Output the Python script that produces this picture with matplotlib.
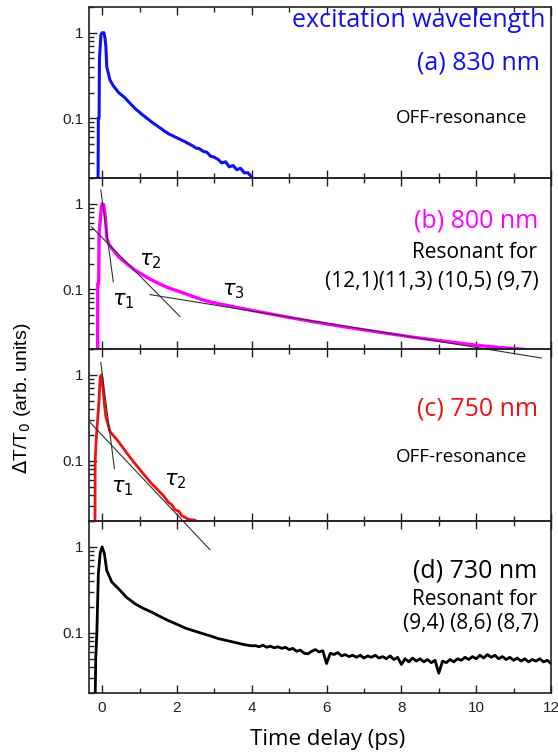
import matplotlib
matplotlib.use("Agg")
import matplotlib.pyplot as plt
from matplotlib.ticker import LogLocator, FixedLocator, NullFormatter, FixedFormatter

# ---------------- data ----------------
# (a) 830 nm
a_x = [-0.11, -0.10, -0.08, -0.07, -0.03, 0.0, 0.05, 0.08, 0.10, 0.125, 0.21, 0.30, 0.44, 0.60,
       0.88, 1.10, 1.33, 1.55, 1.77, 2.00, 2.22, 2.44, 2.5, 2.6, 2.7, 2.8, 2.9, 3.0, 3.1, 3.2,
       3.3, 3.4, 3.5, 3.6, 3.7, 3.8, 3.9, 4.0]
a_y = [0.012, 0.10, 0.10, 0.50, 0.95, 1.0, 1.0, 0.85, 0.70, 0.40, 0.28, 0.24, 0.20, 0.175,
       0.13, 0.108, 0.090, 0.077, 0.066, 0.059, 0.053, 0.047, 0.045, 0.044, 0.041, 0.040, 0.036,
       0.035, 0.033, 0.030, 0.031, 0.027, 0.028, 0.025, 0.026, 0.023, 0.023, 0.0205]

# (b) 800 nm
b_x = [-0.12, -0.115, -0.09, -0.08, -0.02, 0.0, 0.04, 0.07, 0.10, 0.125, 0.18, 0.26, 0.44,
       0.65, 0.88, 1.10, 1.33, 1.55, 1.77, 2.00, 2.22, 2.44, 2.66, 2.90, 3.10, 3.55, 4.00, 4.75,
       5.60, 6.53, 7.40, 8.31, 9.20, 10.09, 10.70, 11.30]
b_y = [0.012, 0.117, 0.117, 0.45, 0.90, 1.0, 0.98, 0.80, 0.59, 0.40, 0.34, 0.30, 0.24,
       0.20, 0.167, 0.146, 0.128, 0.115, 0.104, 0.096, 0.089, 0.082, 0.0757, 0.071, 0.068, 0.062,
       0.0566, 0.049, 0.042, 0.036, 0.0315, 0.0275, 0.0245, 0.0219, 0.0207, 0.0198]
# fit lines (b): endpoints (x, y)
b_tau1 = ([-0.035, 0.30], [1.46, 0.122])
b_tau2 = ([-0.29, 2.08], [0.54, 0.048])
b_tau3 = ([1.28, 11.74], [0.0866, 0.0157])

# (c) 750 nm
c_x = [-0.19, -0.185, -0.15, -0.08, -0.05, -0.02, 0.0, 0.035, 0.07, 0.10, 0.21, 0.44, 0.65,
       0.88, 1.10, 1.33, 1.45, 1.55, 1.65, 1.77, 1.86, 1.95, 2.05, 2.13, 2.22, 2.30, 2.48]
c_y = [0.012, 0.10, 0.20, 0.52, 0.95, 1.0, 0.92, 0.62, 0.42, 0.33, 0.22, 0.167, 0.125,
       0.093, 0.071, 0.054, 0.048, 0.043, 0.039, 0.033, 0.031, 0.027, 0.026, 0.023, 0.022, 0.021,
       0.0204]
c_tau1 = ([-0.035, 0.33], [1.40, 0.081])
c_tau2 = ([-0.32, 2.88], [0.28, 0.0093])

# (d) 730 nm
d_x = [-0.19, -0.17, -0.14, -0.10, -0.05, 0.0, 0.06, 0.125, 0.26, 0.44, 0.65, 0.88, 1.10,
       1.33, 1.55, 1.77, 2.00, 2.22, 2.44, 2.66, 2.90, 3.10, 3.30, 3.55, 3.80, 4.00,
       4.1, 4.2, 4.3, 4.4, 4.5, 4.6, 4.7, 4.8, 4.9, 5.0, 5.1, 5.2, 5.3, 5.4, 5.5, 5.6, 5.7, 5.8,
       5.9, 6.0, 6.1, 6.2, 6.3, 6.4, 6.5, 6.6, 6.7, 6.8, 6.9, 7.0, 7.1, 7.2, 7.3, 7.4, 7.5, 7.6,
       7.7, 7.8, 7.9, 8.0, 8.1, 8.2, 8.3, 8.4, 8.5, 8.6, 8.7, 8.8, 8.9, 9.0, 9.1, 9.2, 9.3, 9.4,
       9.5, 9.6, 9.7, 9.8, 9.9, 10.0, 10.1, 10.2, 10.3, 10.4, 10.5, 10.6, 10.7, 10.8, 10.9, 11.0,
       11.1, 11.2, 11.3, 11.4, 11.5, 11.6, 11.7, 11.8, 11.9, 12.0]
d_y = [0.012, 0.05, 0.10, 0.49, 0.85, 1.0, 0.84, 0.53, 0.39, 0.326, 0.26, 0.218, 0.193,
       0.174, 0.155, 0.139, 0.126, 0.114, 0.106, 0.099, 0.092, 0.086, 0.082, 0.0775, 0.073, 0.0707,
       0.071, 0.069, 0.072, 0.068, 0.070, 0.067, 0.069, 0.066, 0.068, 0.064, 0.066, 0.061, 0.063,
       0.058, 0.057, 0.061, 0.064, 0.060, 0.062, 0.044, 0.058, 0.056, 0.059, 0.054, 0.056, 0.053,
       0.055, 0.052, 0.055, 0.051, 0.054, 0.052, 0.055, 0.051, 0.053, 0.050, 0.054, 0.049, 0.052,
       0.043, 0.050, 0.046, 0.051, 0.047, 0.050, 0.046, 0.049, 0.045, 0.048, 0.034, 0.047, 0.045,
       0.049, 0.046, 0.050, 0.048, 0.052, 0.049, 0.053, 0.050, 0.055, 0.051, 0.056, 0.052, 0.055,
       0.050, 0.053, 0.049, 0.052, 0.048, 0.051, 0.047, 0.050, 0.046, 0.049, 0.047, 0.050, 0.046,
       0.048, 0.044]

x_major = [0, 2, 4, 6, 8, 10, 12]
x_minor = [1, 3, 5, 7, 9, 11]
y_major = [0.1, 1]
y_major_labels = ["0.1", "1"]

# ---------------- figure ----------------
W, H = 558, 752
fig = plt.figure(figsize=(W / 100, H / 100), dpi=100)
fig.patch.set_facecolor("white")

def fx(px):
    return px / W

def fy(py):
    return 1 - py / H

left_px, right_px = 89, 551
tops = [7, 178, 349, 521]
bottoms = [178, 349, 521, 693]

axes = []
for t, b in zip(tops, bottoms):
    ax = fig.add_axes([fx(left_px), fy(b), fx(right_px) - fx(left_px), (b - t) / H])
    ax.set_facecolor("none")
    ax.set_yscale("log")
    ax.set_xlim(-0.35, 12)
    ax.set_ylim(0.02, 2)
    ax.xaxis.set_major_locator(FixedLocator(x_major))
    ax.xaxis.set_minor_locator(FixedLocator(x_minor))
    ax.yaxis.set_major_locator(FixedLocator(y_major))
    ax.yaxis.set_major_formatter(FixedFormatter(y_major_labels))
    ax.yaxis.set_minor_locator(LogLocator(base=10, subs=[2, 3, 4, 5, 6, 7, 8, 9], numticks=10))
    ax.yaxis.set_minor_formatter(NullFormatter())
    ax.tick_params(which="both", direction="in", top=True, right=False, colors="#222222",
                   width=1.0)
    ax.tick_params(which="major", length=6)
    ax.tick_params(which="minor", length=3.5)
    ax.tick_params(axis="y", labelsize=11, pad=4)
    ax.tick_params(axis="x", labelsize=11, pad=6)
    for lab in ax.get_yticklabels() + ax.get_xticklabels():
        lab.set_fontfamily("Liberation Sans")
    for s in ax.spines.values():
        s.set_linewidth(1.2)
        s.set_color("#222222")
    if b != bottoms[-1]:
        ax.tick_params(axis="x", labelbottom=False)
    axes.append(ax)

ax_a, ax_b, ax_c, ax_d = axes

ax_a.plot(a_x, a_y, color="#1010f0", lw=2.2, zorder=3)
ax_b.plot(b_x, b_y, color="#ff00ff", lw=2.4, zorder=2)
ax_c.plot(c_x, c_y, color="#ee1111", lw=2.0, zorder=2)
ax_d.plot(d_x, d_y, color="black", lw=2.0, zorder=3)

fit_kw = dict(color="#333333", lw=0.8, zorder=4, clip_on=False)
ax_b.plot(*b_tau1, **fit_kw)
ax_b.plot(*b_tau2, **fit_kw)
ax_b.plot(*b_tau3, **fit_kw)
ax_c.plot(*c_tau1, **fit_kw)
ax_c.plot(*c_tau2, **fit_kw)

# ---------------- text ----------------
TF = "Open Sans"
def label(px, py, s, size, color="black", ha="right"):
    fig.text(fx(px), fy(py), s, ha=ha, va="baseline", fontsize=size, color=color,
             family=TF)

label(545, 27, "excitation wavelength", 18, "#1010f0")
label(540, 70, "(a) 830 nm", 18, "#1010f0")
label(527, 123, "OFF-resonance", 13.5)
label(538, 227, "(b) 800 nm", 18, "#ff00ff")
label(537, 258, "Resonant for", 15)
label(539, 287, "(12,1)(11,3) (10,5) (9,7)", 15)
label(538, 416, "(c) 750 nm", 18, "#ee1111")
label(527, 462, "OFF-resonance", 13.5)
label(537, 577, "(d) 730 nm", 18)
label(537, 605, "Resonant for", 15)
label(539, 629, "(9,4) (8,6) (8,7)", 15)

def tau(px, py, s):
    fig.text(fx(px), fy(py), s, ha="left", va="baseline", fontsize=15, color="black")

tau(112, 305, r"$\tau_1$")
tau(139, 265, r"$\tau_2$")
tau(222, 295, r"$\tau_3$")
tau(111, 492, r"$\tau_1$")
tau(164, 485, r"$\tau_2$")

fig.text(fx(22), fy(398), r"$\Delta$T/T$_0$ (arb. units)", rotation=90, ha="center",
         va="center", fontsize=14, family="Liberation Sans")
fig.text(fx(328), fy(740), "Time delay (ps)", ha="center", va="center", fontsize=16,
         family=TF)

fig.savefig("out.png", dpi=100, facecolor="white")
